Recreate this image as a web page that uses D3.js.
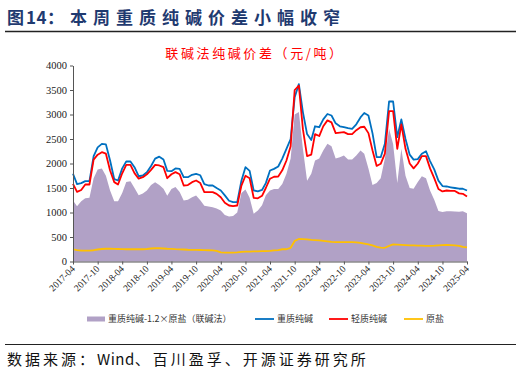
<!DOCTYPE html>
<html><head><meta charset="utf-8">
<script src="https://cdn.jsdelivr.net/npm/d3@7"></script>
<style>
html,body{margin:0;padding:0;background:#fff;}
svg{display:block;}
</style></head>
<body>
<svg id="c" width="521" height="374"></svg>
<script>
const startMonth = "2017-04";
const tickLabels = ["2017-04","2017-10","2018-04","2018-10","2019-04","2019-10","2020-04","2020-10","2021-04","2021-10","2022-04","2022-10","2023-04","2023-10","2024-04","2024-10","2025-04"];
const yTicks = [0,500,1000,1500,2000,2500,3000,3500,4000];
const seriesNames = ["重质纯碱-1.2×原盐（联碱法）","重质纯碱","轻质纯碱","原盐"];

const spread = [1245,1130,1230,1290,1299,1700,1880,1900,1750,1450,1230,1230,1400,1620,1640,1500,1350,1390,1450,1560,
1619,1560,1483,1340,1480,1520,1420,1245,1258,1310,1347,1250,1140,1120,1109,1080,1040,950,920,930,
1000,1400,1470,1300,973,1040,1150,1350,1449,1480,1480,1580,1790,2100,3000,3050,2300,1650,1790,2061,
2100,2265,2401,2350,2100,2130,2163,2080,2080,2163,2265,2200,1900,1560,1600,1700,2100,2707,2400,1600,
2300,1750,1500,1483,1620,1740,1700,1450,1260,1030,1010,1027,1027,1020,1015,1027,986];
const heavy = [1790,1580,1600,1640,1640,2150,2330,2400,2390,2060,1680,1653,1900,2041,2041,1925,1740,1755,1820,1950,
2100,2140,2080,1850,1844,1900,1891,1721,1721,1770,1789,1760,1580,1551,1551,1500,1450,1350,1240,1211,
1211,1650,1925,1850,1450,1430,1460,1600,1857,1891,1939,2100,2300,2500,3350,3620,3050,2600,2480,2760,
2740,2900,3010,2980,2820,2760,2741,2720,2707,2800,2940,3030,2980,2620,2129,2129,2401,3265,3265,2537,
2900,2500,2180,2080,2090,2200,2250,2050,1880,1650,1540,1531,1515,1500,1485,1485,1449];
const light = [1585,1420,1460,1571,1571,2080,2180,2231,2200,1857,1620,1571,1800,1973,1973,1803,1690,1721,1780,1870,
1973,1960,1925,1700,1780,1823,1780,1551,1560,1619,1653,1600,1415,1415,1415,1381,1310,1200,1143,1129,
1143,1550,1750,1700,1300,1290,1340,1500,1690,1730,1735,1860,2061,2350,3500,3590,2700,2150,2180,2600,
2560,2760,2880,2840,2620,2630,2640,2600,2600,2680,2740,2750,2620,2270,1950,1994,2200,3068,3068,2299,
2800,2300,2000,1900,2000,2150,2150,1900,1700,1480,1430,1449,1440,1440,1390,1381,1326];
const salt = [250,230,220,220,222,230,245,255,260,260,258,255,252,250,250,250,250,250,255,265,
270,270,265,260,258,252,248,245,240,238,236,235,232,230,228,215,185,180,180,182,
185,195,200,202,205,208,210,212,215,225,232,250,250,280,420,460,455,450,440,435,
430,420,410,400,395,395,395,395,395,392,380,365,350,330,300,285,280,320,350,345,
340,335,330,330,325,322,320,320,322,330,335,338,335,330,320,300,290,280];

const colors = {spread:"#B1A1C6", heavy:"#0070C0", light:"#FF0000", salt:"#FFC000"};

const svg = d3.select("#c");
const parse = d3.timeParse("%Y-%m");
const t0 = parse(startMonth);
const dates = spread.map((_, i) => d3.timeMonth.offset(t0, i));

const x = d3.scaleTime().domain([t0, parse("2025-04")]).range([73, 467]);
const y = d3.scaleLinear().domain([0, 4000]).range([261.5, 65.5]);

// Title
const tt = svg.append("text").attr("x", 7).attr("y", 24)
  .attr("font-family", "'Noto Sans CJK SC'").attr("font-weight", "bold")
  .attr("font-size", 17).attr("fill", "#1F3A70");
tt.append("tspan").attr("letter-spacing", 2).text("图");
tt.append("tspan").attr("letter-spacing", 0.5).text("14");
tt.append("tspan").attr("letter-spacing", 6).text("：本周重质纯碱价差小幅收窄");
svg.append("line").attr("x1", 5).attr("x2", 516).attr("y1", 31.5).attr("y2", 31.5)
  .attr("stroke", "#222").attr("stroke-width", 1.3);

// Chart title
svg.append("text").attr("x", 255).attr("y", 58).attr("text-anchor", "middle")
  .attr("font-family", "'Noto Sans CJK SC'").attr("font-size", 13).attr("letter-spacing", 2.6)
  .attr("fill", "#FF0000").text("联碱法纯碱价差（元/吨）");

// Area
const area = d3.area().x((d, i) => x(dates[i])).y0(y(0)).y1(d => y(d));
svg.append("path").datum(spread).attr("d", area).attr("fill", colors.spread);

const line = d3.line().x((d, i) => x(dates[i])).y(d => y(d));
[[heavy, colors.heavy], [light, colors.light], [salt, colors.salt]].forEach(([arr, c]) => {
  svg.append("path").datum(arr).attr("d", line).attr("fill", "none")
    .attr("stroke", c).attr("stroke-width", 1.8).attr("stroke-linejoin", "round");
});

// Axes
const yAxis = d3.axisLeft(y).tickValues(yTicks).tickFormat(d3.format("d")).tickSize(3).tickSizeOuter(0);
const gy = svg.append("g").attr("transform", "translate(73,0)").call(yAxis);
gy.selectAll("text").attr("font-family", "'Liberation Serif'").attr("font-size", 10.5).attr("fill", "#222").attr("x", -6);
gy.selectAll("line,path").attr("stroke", "#555");

const xAxis = d3.axisBottom(x).tickValues(tickLabels.map(parse)).tickFormat(d3.timeFormat("%Y-%m")).tickSize(3).tickSizeOuter(0);
const gx = svg.append("g").attr("transform", "translate(0,261.5)").call(xAxis);
gx.selectAll("line,path").attr("stroke", "#555");
gx.selectAll("text").attr("font-family", "'Liberation Serif'").attr("font-size", 9.5).attr("fill", "#222")
  .attr("text-anchor", "end").attr("dy", 0).attr("y", 0)
  .attr("transform", "translate(2,8) rotate(-45)");

// Legend
const ly = 319;
const lg = svg.append("g").attr("font-family", "'Noto Sans CJK SC'").attr("font-size", 9).attr("fill", "#333");
lg.append("rect").attr("x", 87).attr("y", ly - 2.5).attr("width", 18).attr("height", 5).attr("fill", colors.spread);
lg.append("text").attr("x", 108).attr("y", ly + 3.2).text(seriesNames[0]);
[[255, colors.heavy, seriesNames[1]], [329, colors.light, seriesNames[2]], [404, colors.salt, seriesNames[3]]].forEach(([lx, c, t]) => {
  lg.append("line").attr("x1", lx).attr("x2", lx + 19).attr("y1", ly).attr("y2", ly).attr("stroke", c).attr("stroke-width", 1.8);
  lg.append("text").attr("x", lx + 22).attr("y", ly + 3.2).text(t);
});

// Bottom rule and source
svg.append("line").attr("x1", 5).attr("x2", 516).attr("y1", 344.5).attr("y2", 344.5)
  .attr("stroke", "#222").attr("stroke-width", 1.2);
const st = svg.append("text").attr("x", 7).attr("y", 365)
  .attr("font-family", "'Noto Sans CJK SC'").attr("font-size", 15).attr("fill", "#111");
st.append("tspan").attr("letter-spacing", 3).text("数据来源：");
st.append("tspan").attr("letter-spacing", 0.5).text("Wind");
st.append("tspan").attr("letter-spacing", 3).text("、百川盈孚、开源证券研究所");
</script>
</body></html>
